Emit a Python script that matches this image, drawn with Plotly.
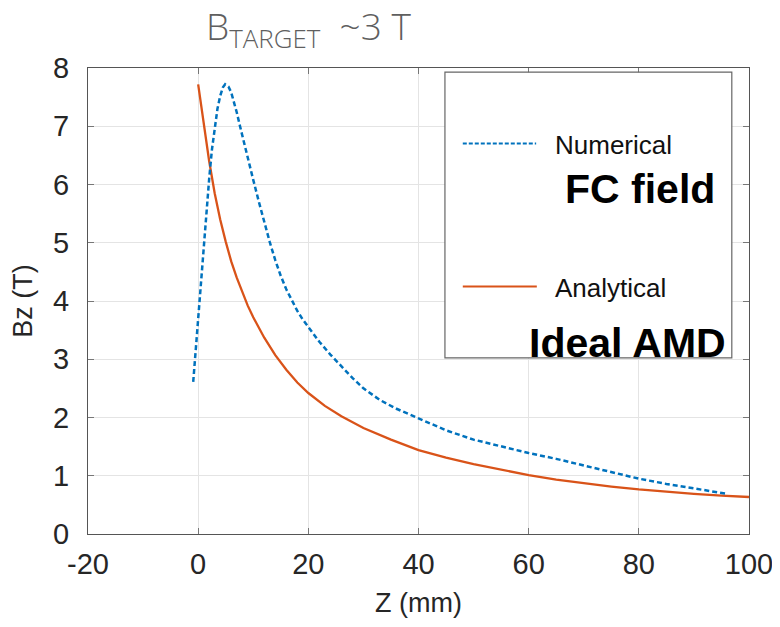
import plotly.graph_objects as go

# Numerical (FC field) - blue dashed
num_z = [-0.9, -0.5, 0.0, 0.5, 1.0, 1.5, 2.0, 2.5, 3.0, 3.5, 4.0, 4.5, 4.9, 5.5, 6.0, 6.5, 7.0, 7.6,
         8.0, 9.0, 10.0, 11.0, 12.0, 13.0, 14.0, 15.0, 16.0, 17.0, 18.0, 19.0, 20.0, 22.0, 24.0, 26.0,
         28.0, 30.0, 33.0, 36.0, 40.0, 45.0, 50.0, 55.0, 60.0, 65.0, 70.0, 75.0, 80.0, 85.0, 90.0, 96.0]
num_b = [2.61, 3.1, 3.7, 4.3, 4.9, 5.5, 6.1, 6.6, 7.0, 7.3, 7.52, 7.67, 7.72, 7.68, 7.58, 7.43, 7.24, 7.0,
         6.84, 6.46, 6.08, 5.71, 5.35, 5.01, 4.7, 4.43, 4.2, 4.0, 3.83, 3.68, 3.55, 3.3, 3.08, 2.88,
         2.68, 2.5, 2.3, 2.15, 1.98, 1.78, 1.62, 1.5, 1.39, 1.29, 1.18, 1.06, 0.95, 0.86, 0.78, 0.69]

# Analytical (Ideal AMD) - orange solid
ana_z = [0, 1, 2, 3, 4, 5, 6, 7, 8, 9, 10, 12, 14, 16, 18, 20, 23, 26, 30, 35, 40, 45, 50, 55, 60,
         65, 70, 75, 80, 85, 90, 95, 100]
ana_b = [7.72, 7.05, 6.4, 5.85, 5.4, 5.02, 4.68, 4.4, 4.15, 3.92, 3.72, 3.37, 3.07, 2.82, 2.6, 2.42,
         2.2, 2.02, 1.82, 1.62, 1.44, 1.31, 1.2, 1.1, 1.01, 0.935, 0.87, 0.815, 0.765, 0.725, 0.69,
         0.66, 0.635]

x_ticks = [-20, 0, 20, 40, 60, 80, 100]
y_ticks = [0, 1, 2, 3, 4, 5, 6, 7, 8]

BLUE = "#0072BD"
ORANGE = "#D95319"
FAM = "Liberation Sans, Arial, Helvetica, sans-serif"
TICKFONT = dict(family=FAM, size=29, color="#262626")
TITLEFONT = dict(family=FAM, size=27, color="#262626")

fig = go.Figure()
fig.add_trace(go.Scatter(x=ana_z, y=ana_b, mode="lines", name="Analytical",
                         line=dict(color=ORANGE, width=2.3),
                         showlegend=False))
fig.add_trace(go.Scatter(x=num_z, y=num_b, mode="lines", name="Numerical",
                         line=dict(color=BLUE, width=2.5, dash="5px,3px"),
                         showlegend=False))

axis_common = dict(showline=True, linecolor="#555555", linewidth=1, mirror="ticks",
                   ticks="inside", ticklen=6, tickcolor="#777777",
                   showgrid=True, gridcolor="#e4e4e4", gridwidth=1, zeroline=False,
                   tickfont=TICKFONT, automargin=False)

fig.update_xaxes(range=[-20, 100], tickvals=x_ticks, ticktext=[str(v) for v in x_ticks],
                 ticklabelstandoff=4,
                 title=dict(text="Z (mm)", font=TITLEFONT, standoff=14), **axis_common)
fig.update_yaxes(range=[0, 8], tickvals=y_ticks, ticktext=[str(v) for v in y_ticks],
                 ticklabelstandoff=12,
                 title=dict(text="Bz (T)", font=TITLEFONT, standoff=12), **axis_common)

# Legend box drawn manually (paper coords)
fig.add_shape(type="rect", xref="paper", yref="paper", x0=0.540, x1=0.974, y0=0.378, y1=0.991,
              line=dict(color="#666666", width=1.2), fillcolor="white", layer="above")
fig.add_shape(type="line", xref="paper", yref="paper", x0=0.567, x1=0.678, y0=0.838, y1=0.838,
              line=dict(color=BLUE, width=2, dash="4px,2px"), layer="above")
fig.add_shape(type="line", xref="paper", yref="paper", x0=0.567, x1=0.679, y0=0.531, y1=0.531,
              line=dict(color=ORANGE, width=2), layer="above")

lf = dict(family=FAM, size=26, color="#111111")
fig.add_annotation(xref="paper", yref="paper", x=0.704, y=0.834, xanchor="left", yanchor="middle",
                   text="Numerical", showarrow=False, font=lf)
fig.add_annotation(xref="paper", yref="paper", x=0.704, y=0.527, xanchor="left", yanchor="middle",
                   text="Analytical", showarrow=False, font=lf)
bf = dict(family=FAM, size=41, color="#000000")
fig.add_annotation(xref="paper", yref="paper", x=0.835, y=0.740, xanchor="center", yanchor="middle",
                   text="<b>FC field</b>", showarrow=False, font=bf)
fig.add_annotation(xref="paper", yref="paper", x=0.816, y=0.410, xanchor="center", yanchor="middle",
                   text="<b>Ideal AMD</b>", showarrow=False, font=bf)

# Top title
fig.add_annotation(xref="paper", yref="paper", x=0.334, y=1.085, xanchor="center", yanchor="middle",
                   text="B<sub>TARGET</sub>  ~3 T", showarrow=False,
                   font=dict(family="Open Sans, sans-serif", size=37, color="#5f5f5f", weight=300))

# page body adds an 8px offset, so margins are reduced accordingly
fig.update_layout(width=780, height=627, margin=dict(l=80, r=39, t=60, b=101),
                  paper_bgcolor="white", plot_bgcolor="white", showlegend=False)

fig.write_html("out.html")
